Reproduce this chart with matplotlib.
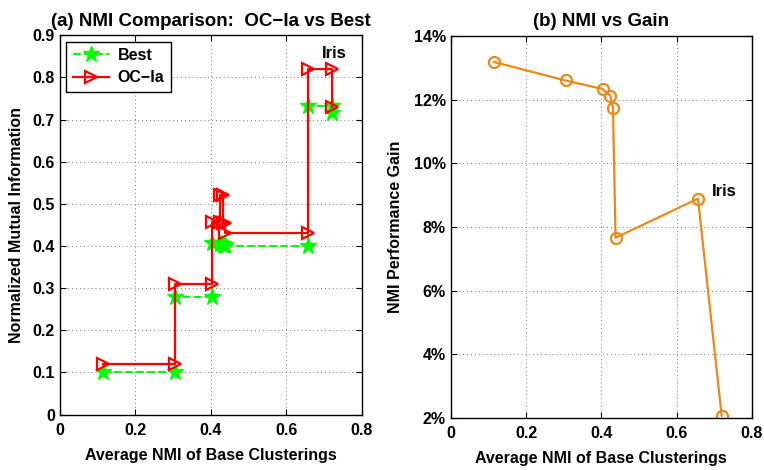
import matplotlib
matplotlib.use("Agg")
import matplotlib.pyplot as plt
import numpy as np
from matplotlib.ticker import FuncFormatter

# average NMI of base clusterings, one per data set (sorted)
avg_nmi = [0.115, 0.305, 0.404, 0.424, 0.431, 0.438, 0.657, 0.720]
best_nmi = [0.100, 0.280, 0.408, 0.405, 0.402, 0.400, 0.733, 0.715]
ocia_nmi = [0.120, 0.310, 0.458, 0.520, 0.455, 0.430, 0.820, 0.730]
gain_pct = [13.18, 12.60, 12.33, 12.12, 11.75, 7.66, 8.89, 2.07]

x_ticks = [0, 0.2, 0.4, 0.6, 0.8]
left_y_ticks = [0, 0.1, 0.2, 0.3, 0.4, 0.5, 0.6, 0.7, 0.8, 0.9]
right_y_ticks = [2, 4, 6, 8, 10, 12, 14]

plt.rcParams["font.family"] = ["Liberation Sans", "DejaVu Sans"]
plt.rcParams["font.weight"] = "bold"
plt.rcParams["axes.labelweight"] = "bold"
plt.rcParams["axes.titleweight"] = "bold"


def stair_vertices(x, y):
    # matlab-style stairs: every corner is a vertex (markers on all corners)
    x = np.asarray(x)
    y = np.asarray(y)
    return np.repeat(x, 2)[1:], np.repeat(y, 2)[:-1]


def style_axes(ax):
    ax.grid(True, linestyle=(0, (1, 3)), color="0.45", linewidth=0.7)
    ax.tick_params(direction="in", top=True, right=True, length=4,
                   labelsize=11.5, width=0.8)
    ax.tick_params(axis="x", pad=6)
    for label in ax.get_xticklabels() + ax.get_yticklabels():
        label.set_fontweight("bold")
    for spine in ax.spines.values():
        spine.set_linewidth(1.0)


fig = plt.figure(figsize=(7.64, 4.70), dpi=100)

ax1 = fig.add_axes([0.0785, 0.118, 0.395, 0.807])
bx, by = stair_vertices(avg_nmi, best_nmi)
ox, oy = stair_vertices(avg_nmi, ocia_nmi)
ax1.plot(bx, by, linestyle="--", color=(0, 1, 0), linewidth=1.5,
         marker="*", markersize=12, label="Best")
ax1.plot(ox, oy, linestyle="-", color=(1, 0, 0), linewidth=1.6,
         marker=">", markersize=9, markerfacecolor="none",
         markeredgewidth=1.6, label="OC\u2212Ia")
ax1.text(0.695, 0.857, "Iris", fontsize=12, fontweight="bold",
         ha="left", va="center")
ax1.set_xlim(0, 0.8)
ax1.set_ylim(0, 0.9)
ax1.set_xticks(x_ticks)
ax1.set_yticks(left_y_ticks)
fmt = FuncFormatter(lambda v, p: "%g" % v)
ax1.xaxis.set_major_formatter(fmt)
ax1.yaxis.set_major_formatter(fmt)
ax1.set_xlabel("Average NMI of Base Clusterings", fontsize=11.5, labelpad=7)
ax1.set_ylabel("Normalized Mutual Information", fontsize=11.5, labelpad=6)
ax1.set_title("(a) NMI Comparison:  OC\u2212Ia vs Best", fontsize=13.5, pad=7)
leg = ax1.legend(loc="upper left", fontsize=11.5, fancybox=False,
                 edgecolor="black", framealpha=1, handlelength=2.3,
                 handletextpad=0.5, borderaxespad=0.4, labelspacing=0.45)
leg.get_frame().set_linewidth(1.0)
for t in leg.get_texts():
    t.set_fontweight("bold")
style_axes(ax1)

ax2 = fig.add_axes([0.590, 0.1106, 0.394, 0.813])
ax2.plot(avg_nmi, gain_pct, color="#E8891A", linewidth=1.6, marker="o",
         markersize=8, markerfacecolor="none", markeredgewidth=1.6)
ax2.text(0.695, 9.1, "Iris", fontsize=12, fontweight="bold",
         ha="left", va="center")
ax2.set_xlim(0, 0.8)
ax2.set_ylim(2, 14)
ax2.set_xticks(x_ticks)
ax2.set_yticks(right_y_ticks)
ax2.xaxis.set_major_formatter(fmt)
ax2.yaxis.set_major_formatter(FuncFormatter(lambda v, p: "%d%%" % v))
ax2.set_xlabel("Average NMI of Base Clusterings", fontsize=11.5, labelpad=7)
ax2.set_ylabel("NMI Performance Gain", fontsize=11.5, labelpad=8)
ax2.set_title("(b) NMI vs Gain", fontsize=13.5, pad=7)
style_axes(ax2)

fig.savefig("out.png", dpi=100)
